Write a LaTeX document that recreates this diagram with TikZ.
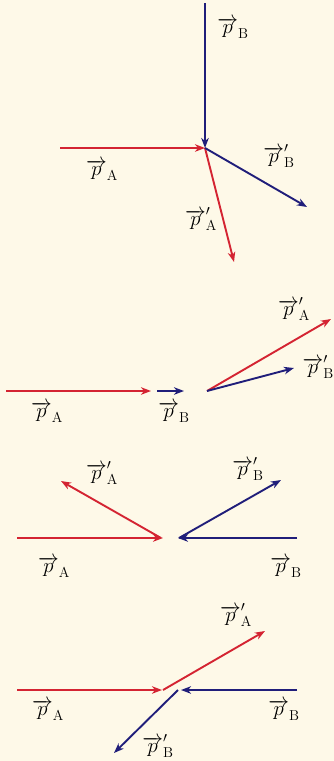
\documentclass[tikz,border=0pt]{standalone}
\usetikzlibrary{arrows.meta}
\definecolor{bg}{RGB}{254,249,232}
\definecolor{vred}{RGB}{212,36,50}
\definecolor{vblue}{RGB}{32,30,122}
\newcommand{\vp}[1]{\overrightarrow{p}_{\mathrm{#1}}}
\newcommand{\vpp}[1]{\overrightarrow{p}'_{\mathrm{#1}}}
\begin{document}
\begin{tikzpicture}[x=1pt,y=-1pt,
  vec/.style={line width=1.9pt,-{Stealth[length=10pt,width=7.5pt,inset=3pt]}},
  lbl/.style={inner sep=0pt,font=\huge}]
\fill[bg] (0,0) rectangle (334,761);
\useasboundingbox (0,0) rectangle (334,761);
% panel 1
\coordinate (c1) at (205,148);
\coordinate (b1s) at (205,3);
\coordinate (a1s) at (60,148);
\coordinate (a1e) at (234,262);
\coordinate (b1e) at (307,207);
\draw[vec,vblue] (b1s) -- (c1);
\draw[vec,vred] (a1s) -- (c1);
\draw[vec,vred] (c1) -- (a1e);
\draw[vec,vblue] (c1) -- (b1e);
\node[lbl] (l1a) at (102,170) {$\vp{A}$};
\node[lbl] (l1b) at (233,28) {$\vp{B}$};
\node[lbl] (l1ap) at (201,219) {$\vpp{A}$};
\node[lbl] (l1bp) at (279,156) {$\vpp{B}$};
% panel 2
\coordinate (a2s) at (6,391);
\coordinate (a2e) at (151,391);
\coordinate (b2s) at (157,391);
\coordinate (b2e) at (184,391);
\coordinate (c2) at (207,391);
\coordinate (a2p) at (331,319);
\coordinate (b2p) at (294,368);
\draw[vec,vred] (a2s) -- (a2e);
\draw[vec,vblue] (b2s) -- (b2e);
\draw[vec,vred] (c2) -- (a2p);
\draw[vec,vblue] (c2) -- (b2p);
\node[lbl] (l2a) at (47,412) {$\vp{A}$};
\node[lbl] (l2b) at (174,412) {$\vp{B}$};
\node[lbl] (l2ap) at (294,309) {$\vpp{A}$};
\node[lbl,anchor=east] (l2bp) at (334,367) {$\vpp{B}$};
% panel 3
\coordinate (a3s) at (17,538);
\coordinate (a3e) at (163,538);
\coordinate (c3a) at (161,538);
\coordinate (a3p) at (61,481);
\coordinate (b3s) at (297,538);
\coordinate (b3e) at (178,538);
\coordinate (c3b) at (179,538);
\coordinate (b3p) at (281,480);
\draw[vec,vred] (a3s) -- (a3e);
\draw[vec,vred] (c3a) -- (a3p);
\draw[vec,vblue] (b3s) -- (b3e);
\draw[vec,vblue] (c3b) -- (b3p);
\node[lbl] (l3a) at (54,567) {$\vp{A}$};
\node[lbl] (l3b) at (286,567) {$\vp{B}$};
\node[lbl] (l3ap) at (102,473) {$\vpp{A}$};
\node[lbl] (l3bp) at (248,469) {$\vpp{B}$};
% panel 4
\coordinate (a4s) at (17,690);
\coordinate (a4e) at (162,690);
\coordinate (c4a) at (163,690);
\coordinate (a4p) at (265,631);
\coordinate (b4s) at (297,690);
\coordinate (b4e) at (181,690);
\coordinate (c4b) at (178,690);
\coordinate (b4p) at (114,753);
\draw[vec,vred] (a4s) -- (a4e);
\draw[vec,vred] (c4a) -- (a4p);
\draw[vec,vblue] (b4s) -- (b4e);
\draw[vec,vblue] (c4b) -- (b4p);
\node[lbl] (l4a) at (48,710) {$\vp{A}$};
\node[lbl] (l4b) at (284,710) {$\vp{B}$};
\node[lbl] (l4ap) at (236,615) {$\vpp{A}$};
\node[lbl] (l4bp) at (158,746) {$\vpp{B}$};
\end{tikzpicture}
\end{document}
